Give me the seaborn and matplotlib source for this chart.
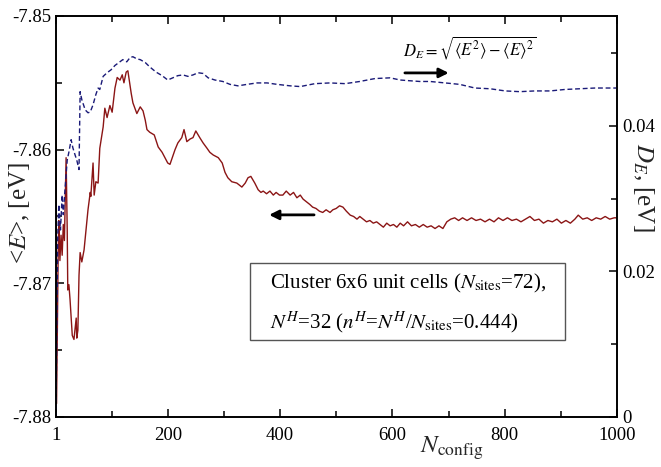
import matplotlib
matplotlib.use("Agg")
import matplotlib.pyplot as plt
import matplotlib.ticker as mticker
from matplotlib.patches import Rectangle
import seaborn as sns

# <E> vs number of configurations (left axis)
n_mean = [1, 2, 5, 6, 8, 10, 12, 14, 16, 19, 21, 22, 24, 26, 30, 33, 37, 38, 40, 42,
          44, 47, 51, 54, 58, 62, 63, 67, 69, 72, 76, 79, 85, 88, 92, 97, 101, 106, 110, 115,
          119, 122, 126, 129, 135, 138, 145, 151, 156, 160, 163, 168, 176, 183, 190, 195, 200, 204, 213, 218,
          225, 229, 234, 240, 245, 250, 257, 263, 270, 275, 281, 290, 297, 302, 307, 314, 323, 332, 338, 343,
          348, 355, 361, 366, 370, 376, 382, 388, 393, 399,
          405, 411, 418, 424, 430, 436, 441, 447, 453, 458, 464, 470, 476, 482, 489, 494, 500, 506, 512, 518,
          525, 531, 537, 542, 548, 554,
          560, 566, 572, 578, 584, 590, 596, 602, 608, 614, 620, 627, 634, 641, 648, 655, 662, 669, 676, 683,
          690, 697, 704, 711, 718, 725, 733, 741, 749, 757, 765, 773, 781, 789, 797, 805, 813, 821, 829, 837,
          845, 853, 861, 869, 877, 885, 893, 901, 909, 917, 925, 931, 939, 947, 955, 963, 971, 979, 987, 995,
          1000]
e_mean = [-7.8552, -7.8790, -7.8675, -7.8653, -7.8683, -7.8664, -7.8679, -7.8656, -7.8668, -7.8606,
          -7.8660, -7.8705, -7.8701, -7.8712, -7.8739, -7.8742, -7.8726, -7.8741, -7.8735, -7.8694,
          -7.8677, -7.8684, -7.8675, -7.8662, -7.8645, -7.8632, -7.8635, -7.8610, -7.8634, -7.8624,
          -7.8625, -7.8599, -7.8583, -7.8569, -7.8576, -7.8567, -7.8572, -7.8554, -7.8546, -7.8548,
          -7.8544, -7.8550, -7.8542, -7.8541, -7.8558, -7.8565, -7.8573, -7.8568, -7.8571, -7.8578,
          -7.8585, -7.8587, -7.8589, -7.8598, -7.8602, -7.8606, -7.8610, -7.8611, -7.8600, -7.8595,
          -7.8591, -7.8585, -7.8594, -7.8592, -7.8591, -7.8586, -7.8591, -7.8595, -7.8599, -7.8602,
          -7.8604, -7.8606, -7.8610, -7.8617, -7.8621, -7.8624, -7.8625, -7.8628, -7.8625, -7.8621,
          -7.8620, -7.8625, -7.8630, -7.8632, -7.8631, -7.8633, -7.8631, -7.8634, -7.8632, -7.8634,
          -7.8634, -7.8631, -7.8634, -7.8632, -7.8636, -7.8634, -7.8637, -7.8639, -7.8641, -7.8643,
          -7.8644, -7.8646, -7.8647, -7.8645, -7.8647, -7.8645, -7.8644, -7.8642, -7.8643, -7.8646,
          -7.8649, -7.8650, -7.8652, -7.8650, -7.8652, -7.8654,
          -7.8653, -7.8655, -7.8654, -7.8656, -7.8658, -7.8655, -7.8657, -7.8656, -7.8658, -7.8655,
          -7.8657, -7.8654, -7.8657, -7.8656, -7.8658, -7.8656, -7.8658, -7.8657, -7.8659, -7.8657,
          -7.8659, -7.8654, -7.8652, -7.8651, -7.8653, -7.8651, -7.8653, -7.8651, -7.8653, -7.8652,
          -7.8654, -7.8652, -7.8654, -7.8651, -7.8653, -7.8651, -7.8653, -7.8652, -7.8654, -7.8652,
          -7.8650, -7.8653, -7.8652, -7.8655, -7.8653, -7.8654, -7.8652, -7.8655, -7.8653, -7.8655,
          -7.8652, -7.8649, -7.8652, -7.8651, -7.8653, -7.8651, -7.8652, -7.8650, -7.8652, -7.8651,
          -7.8651]

# D_E vs number of configurations (right axis)
n_dev = [1, 4, 6, 9, 12, 14, 17, 21, 24, 28, 31, 35, 38, 42, 44, 47, 53, 58, 62, 67,
         72, 76, 79, 85, 92, 99, 106, 113, 120, 127, 133, 138, 145, 151, 160, 168, 179, 190, 200, 209,
         218, 227, 236, 245, 254, 263, 272, 284, 298, 311, 325, 341, 359, 377, 395, 418, 436, 462, 489, 516,
         542, 569, 596, 614, 631, 649, 667, 694, 720, 747, 774, 801, 827, 854, 881, 907, 934, 961, 979, 1000]
d_dev = [0.0, 0.0243, 0.0292, 0.0257, 0.0305, 0.0278, 0.0312, 0.0353, 0.0364, 0.0381,
         0.0370, 0.0360, 0.0353, 0.0340, 0.0447, 0.0436, 0.0422, 0.0418, 0.0419, 0.0429,
         0.0443, 0.0452, 0.0450, 0.0468, 0.0473, 0.0477, 0.0483, 0.0487, 0.0491, 0.0488,
         0.0494, 0.0495, 0.0492, 0.0491, 0.0487, 0.0481, 0.0474, 0.0469, 0.0463, 0.0466,
         0.0469, 0.0470, 0.0468, 0.0470, 0.0473, 0.0472, 0.0466, 0.0463, 0.0461, 0.0457,
         0.0455, 0.0457, 0.0459, 0.0459, 0.0457, 0.0455, 0.0454, 0.0458, 0.0459, 0.0458,
         0.0461, 0.0465, 0.0466, 0.0463, 0.0462, 0.0461, 0.0461, 0.0459, 0.0457, 0.0452,
         0.0451, 0.0448, 0.0447, 0.0448, 0.0448, 0.0450, 0.0451, 0.0452, 0.0452, 0.0452]

x_ticks = [1, 200, 400, 600, 800, 1000]
e_ticks = [-7.88, -7.87, -7.86, -7.85]
d_ticks = [0, 0.02, 0.04]

sns.set_style("ticks")
plt.rcParams["font.family"] = ["Liberation Serif", "DejaVu Serif"]
plt.rcParams["mathtext.fontset"] = "stix"
plt.rcParams["axes.edgecolor"] = "black"
plt.rcParams["axes.linewidth"] = 1.2
plt.rcParams["text.color"] = "black"
plt.rcParams["xtick.color"] = "black"
plt.rcParams["ytick.color"] = "black"

fig = plt.figure(figsize=(6.61, 4.67), dpi=100)
ax = fig.add_axes([0.0847, 0.1071, 0.8487, 0.8587])
ax2 = ax.twinx()

red = "#8b1515"
blue = "#1a1a78"

sns.lineplot(x=n_mean, y=e_mean, ax=ax, color=red, linewidth=1.0)
sns.lineplot(x=n_dev, y=d_dev, ax=ax2, color=blue, linewidth=1.0,
             linestyle=(0, (3.5, 2.0)))

ax.set_xlim(1, 1000)
ax.set_ylim(-7.88, -7.85)
ax2.set_ylim(0, 0.0551)

ax.set_xticks(x_ticks)
ax.xaxis.set_minor_locator(mticker.FixedLocator([100, 300, 500, 700, 900]))
ax.set_yticks(e_ticks)
ax.yaxis.set_minor_locator(mticker.FixedLocator([-7.875, -7.865, -7.855]))
ax.yaxis.set_major_formatter(mticker.FuncFormatter(lambda v, p: f"{v:.2f}"))
ax2.set_yticks(d_ticks)
ax2.yaxis.set_minor_locator(mticker.FixedLocator([0.01, 0.03, 0.05]))
ax2.yaxis.set_major_formatter(mticker.FuncFormatter(lambda v, p: "0" if v == 0 else f"{v:.2f}"))

ax.tick_params(axis="both", which="both", direction="in", labelsize=13.5)
ax.tick_params(axis="x", which="both", top=True, pad=7)
ax.tick_params(which="major", length=6, width=1.1)
ax.tick_params(which="minor", length=4, width=1.1)
ax2.tick_params(axis="y", which="both", direction="in", labelsize=13.5, pad=4)
ax2.tick_params(which="major", length=6, width=1.1)
ax2.tick_params(which="minor", length=4, width=1.1)

for a in (ax, ax2):
    for s in a.spines.values():
        s.set_visible(True)
        s.set_linewidth(1.2)

ax.set_xlabel(r"$N_{\rm config}$", fontsize=18)
ax.xaxis.set_label_coords(0.706, -0.045)
ax.set_ylabel(r"<$E$>, [eV]", fontsize=18)
ax.yaxis.set_label_coords(-0.043, 0.509)
ax2.set_ylabel(r"$D_E$, [eV]", fontsize=18, rotation=270, va="center")
ax2.yaxis.set_label_coords(1.048, 0.574)

# formula and arrows
ax.text(0.619, 0.92, r"$D_E=\sqrt{\left\langle E^2\right\rangle-\left\langle E\right\rangle^2}$",
        transform=ax.transAxes, fontsize=12, va="center", ha="left")
ax.annotate("", xy=(0.705, 0.858), xytext=(0.617, 0.858), xycoords="axes fraction",
            arrowprops=dict(arrowstyle="-|>", color="black", lw=2, mutation_scale=14))
ax.annotate("", xy=(0.375, 0.504), xytext=(0.465, 0.504), xycoords="axes fraction",
            arrowprops=dict(arrowstyle="-|>", color="black", lw=2, mutation_scale=14))

# info box
ax.add_patch(Rectangle((0.346, 0.192), 0.561, 0.192, transform=ax.transAxes,
                       fill=True, facecolor="white", edgecolor="#555555", lw=1.0, zorder=5))
ax.text(0.381, 0.334, r"Cluster 6x6 unit cells ($N_{\rm sites}$=72),",
        transform=ax.transAxes, fontsize=15, va="center", ha="left", zorder=6)
ax.text(0.381, 0.234, r"$N^H$=32 ($n^H$=$N^H$/$N_{\rm sites}$=0.444)",
        transform=ax.transAxes, fontsize=15, va="center", ha="left", zorder=6)

fig.savefig("out.png", dpi=100)
